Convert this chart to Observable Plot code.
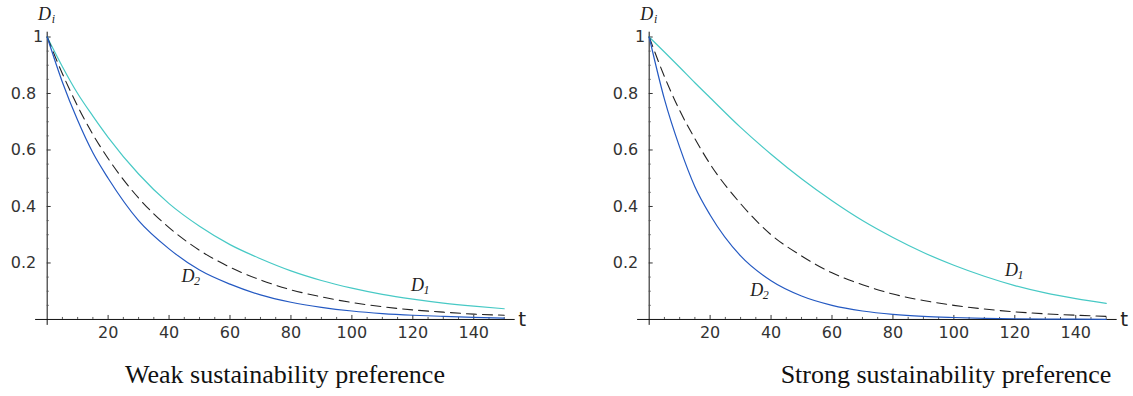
<!DOCTYPE html>
<html><head><meta charset="utf-8">
<script src="https://cdn.jsdelivr.net/npm/d3@7"></script>
<script src="https://cdn.jsdelivr.net/npm/@observablehq/plot@0.6"></script>
<style>
body{margin:0;background:#fff;}
#wrap{position:relative;width:1133px;height:396px;overflow:hidden;background:#fff;}
.panel{position:absolute;top:0;}
.title{position:absolute;top:362px;font-family:"Liberation Serif",serif;font-size:26px;line-height:26px;white-space:nowrap;transform:translateX(-50%);color:#111;}
</style></head><body>
<div id="wrap"></div>
<script>
// ---- data ----
const tValues = [0,5,10,15,20,30,40,50,60,70,80,90,100,110,120,130,140,150];

const weakD1   = [1,0.895,0.80,0.72,0.645,0.515,0.41,0.33,0.265,0.215,0.172,0.138,0.111,0.089,0.072,0.058,0.047,0.038];
const weakD2   = [1,0.84,0.705,0.59,0.50,0.35,0.25,0.175,0.125,0.087,0.061,0.043,0.030,0.021,0.015,0.011,0.0075,0.005];
const weakD    = [1,0.87,0.755,0.655,0.57,0.43,0.325,0.245,0.185,0.14,0.105,0.08,0.06,0.045,0.034,0.026,0.019,0.015];

const strongD1 = [1,0.947,0.893,0.838,0.785,0.68,0.585,0.498,0.42,0.35,0.29,0.237,0.192,0.153,0.12,0.094,0.074,0.057];
const strongD2 = [1,0.78,0.61,0.47,0.37,0.225,0.137,0.083,0.05,0.03,0.018,0.011,0.007,0.004,0.0025,0.0015,0.001,0.0006];
const strongD  = [1,0.86,0.74,0.64,0.55,0.41,0.30,0.225,0.165,0.123,0.09,0.067,0.05,0.037,0.027,0.02,0.015,0.011];

const xTickValues = [20,40,60,80,100,120,140];
const xTickLabels = ["20","40","60","80","100","120","140"];
const xMinorTicks = [5,10,15,25,30,35,45,50,55,65,70,75,85,90,95,105,110,115,125,130,135,145,150];
const yTickValues = [0.2,0.4,0.6,0.8,1];
const yTickLabels = ["0.2","0.4","0.6","0.8","1"];
const yMinorTicks = [0.05,0.1,0.15,0.25,0.3,0.35,0.45,0.5,0.55,0.65,0.7,0.75,0.85,0.9,0.95];

const weakLabels   = [{main:"D", sub:"1", t:121.5, v:0.121}, {main:"D", sub:"2", t:46.2, v:0.152}, {main:"D", sub:"i", t:-0.9, v:1.082}];
const strongLabels = [{main:"D", sub:"1", t:118.9, v:0.173}, {main:"D", sub:"2", t:35.3, v:0.103}, {main:"D", sub:"i", t:-0.8, v:1.082}];

const titles = ["Weak sustainability preference", "Strong sustainability preference"];

const xDomain = [-3.8, 153.6];
const yDomain = [-0.021, 1.017];

const colD1 = "#47c9c5", colD2 = "#2459c2", colD = "#222";
const tickFont = '"DejaVu Sans", sans-serif';
const serif = '"Liberation Serif", serif';

function series(d1, d2, d) {
  const rows = [];
  tValues.forEach((t, i) => {
    rows.push({t, v: d1[i], s: "D1"});
    rows.push({t, v: d2[i], s: "D2"});
    rows.push({t, v: d[i], s: "D"});
  });
  return rows;
}

function panel(d1, d2, d, labels, width, marginRight) {
  const rows = series(d1, d2, d);
  const yLab = yTickValues.map((v, i) => ({v, label: yTickLabels[i]}));
  return Plot.plot({
    width, height: 350,
    marginLeft: 35.1, marginRight, marginTop: 31.7, marginBottom: 25.1,
    x: {domain: xDomain, axis: null},
    y: {domain: yDomain, axis: null},
    style: {background: "transparent", overflow: "visible"},
    marks: [
      // axes lines
      Plot.ruleY([0], {x1: xDomain[0], x2: xDomain[1], stroke: "#111", strokeWidth: 1}),
      Plot.ruleX([0], {y1: yDomain[0], y2: yDomain[1], stroke: "#111", strokeWidth: 1}),
      // x ticks (inward/up)
      Plot.ruleX(xTickValues, {x: d => d, y1: 0, y2: 0, insetTop: -4, stroke: "#333"}),
      Plot.ruleX(xMinorTicks, {x: d => d, y1: 0, y2: 0, insetTop: -2, stroke: "#555"}),
      // y ticks (inward/right)
      Plot.ruleY(yTickValues, {y: d => d, x1: 0, x2: 0, insetRight: -4, stroke: "#333"}),
      Plot.ruleY(yMinorTicks, {y: d => d, x1: 0, x2: 0, insetRight: -2, stroke: "#555"}),
      // tick labels
      Plot.text(xTickValues, {x: d => d, y: 0, text: (d, i) => xTickLabels[i], dy: 13, fontSize: 16, fontFamily: tickFont, fill: "#333", lineAnchor: "middle"}),
      Plot.text(yLab.filter(d => d.label.length > 1), {x: 0, y: "v", text: "label", dx: -11, textAnchor: "end", fontSize: 16, fontFamily: tickFont, fill: "#333", lineAnchor: "middle"}),
      Plot.text(yLab.filter(d => d.label.length === 1), {x: 0, y: "v", text: "label", dx: -4, textAnchor: "end", fontSize: 16, fontFamily: tickFont, fill: "#333", lineAnchor: "middle"}),
      Plot.text(["t"], {x: xDomain[1], y: 0, text: d => d, dx: 3, textAnchor: "start", fontSize: 20, fontFamily: tickFont, fill: "#222", lineAnchor: "middle"}),
      // curves
      Plot.line(rows.filter(r => r.s === "D1"), {x: "t", y: "v", stroke: colD1, strokeWidth: 1.2, curve: "monotone-x"}),
      Plot.line(rows.filter(r => r.s === "D"), {x: "t", y: "v", stroke: colD, strokeWidth: 1.1, strokeDasharray: "10,6", curve: "monotone-x"}),
      Plot.line(rows.filter(r => r.s === "D2"), {x: "t", y: "v", stroke: colD2, strokeWidth: 1.2, curve: "monotone-x"}),
      // curve labels
      Plot.text(labels, {x: "t", y: "v", text: "main", fontSize: 18, fontStyle: "italic", fontFamily: serif, fill: "#222", lineAnchor: "middle"}),
      Plot.text(labels, {x: "t", y: "v", text: "sub", dx: 9, dy: 5, fontSize: 12, fontStyle: "italic", fontFamily: serif, fill: "#222", lineAnchor: "middle"})
    ]
  });
}

const wrap = document.getElementById("wrap");
const left = panel(weakD1, weakD2, weakD, weakLabels, 566, 51.3);
left.classList.add("panel"); left.style.left = "0px";
wrap.appendChild(left);
const right = panel(strongD1, strongD2, strongD, strongLabels, 531.4, 16.7);
right.classList.add("panel"); right.style.left = "601.6px";
wrap.appendChild(right);

const titleX = [285, 946];
titles.forEach((txt, i) => {
  const el = document.createElement("div");
  el.className = "title";
  el.textContent = txt;
  el.style.left = titleX[i] + "px";
  wrap.appendChild(el);
});
</script>
</body></html>
